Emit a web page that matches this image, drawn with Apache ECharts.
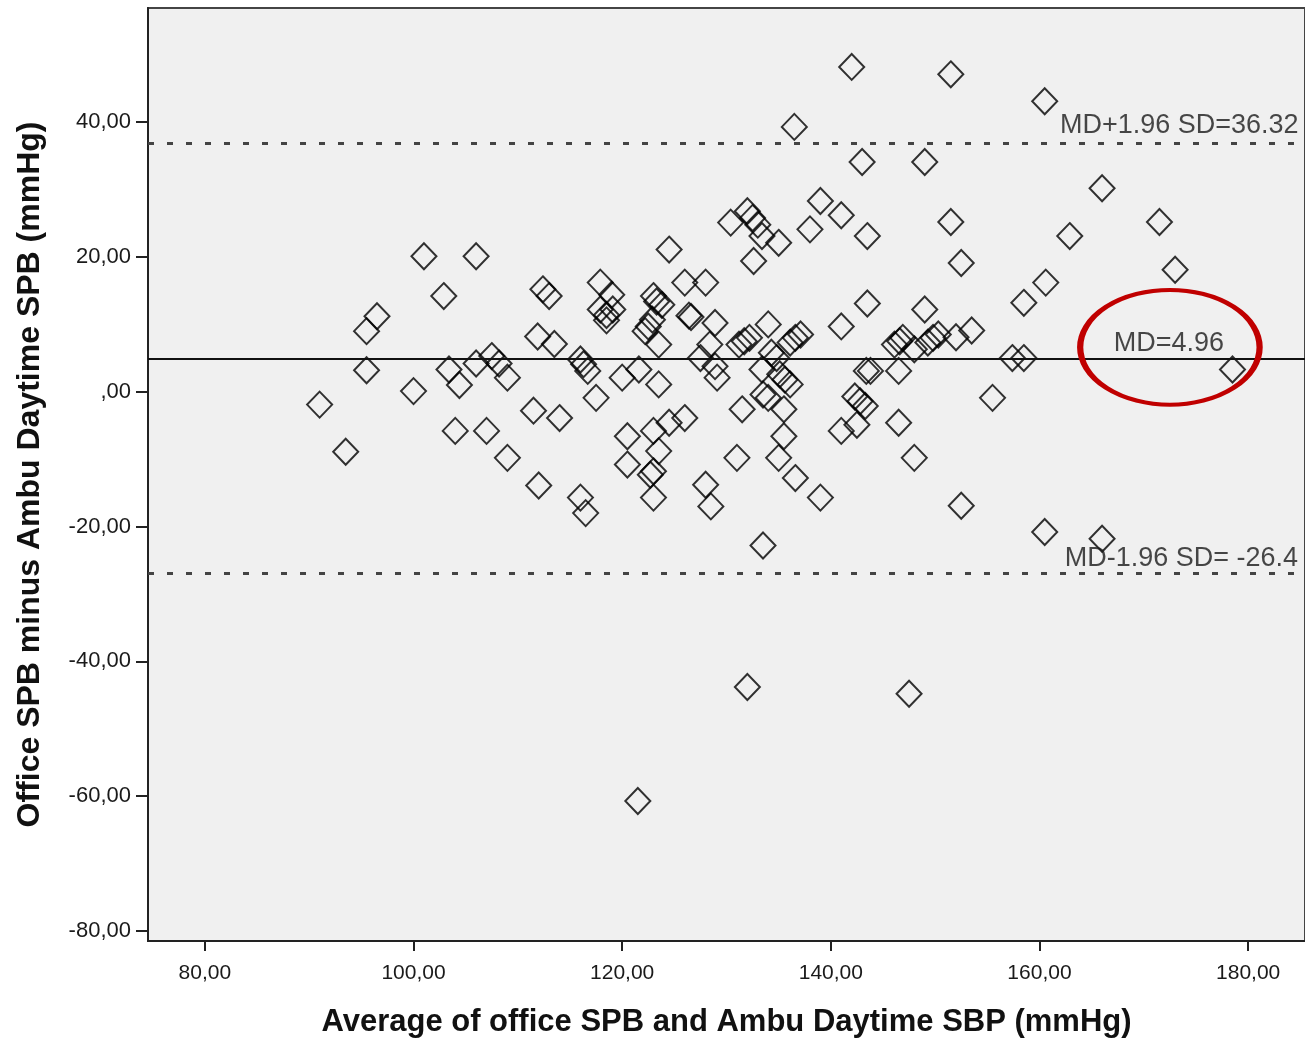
<!DOCTYPE html>
<html>
<head>
<meta charset="utf-8">
<script src="https://cdn.jsdelivr.net/npm/echarts@6/dist/echarts.min.js"></script>
<style>
html,body{margin:0;padding:0;background:#fff;}
#chart{width:1305px;height:1043px;}
</style>
</head>
<body>
<div id="chart"></div>
<script>
// Average of office SBP and ambulatory daytime SBP (mmHg)
const averages = [
  91.0, 93.5, 95.5, 96.5, 95.5, 100.0, 101.0, 102.9, 103.4, 104.4,
  104.0, 106.0, 106.0, 107.5, 108.2, 109.0, 107.0, 109.0, 112.4, 113.0,
  111.9, 113.5, 111.5, 114.0, 112.0, 116.0, 116.3, 116.7, 116.0, 116.5,
  117.5, 117.9, 119.0, 117.9, 119.1, 118.5, 118.5, 120.0, 121.6, 123.5,
  123.0, 123.3, 123.8, 122.9, 122.5, 122.2, 123.5, 124.5, 126.0, 128.0,
  126.4, 126.6, 128.9, 128.4, 127.5, 128.9, 129.1, 120.5, 120.5, 123.0,
  123.5, 124.5, 126.0, 122.7, 123.0, 123.0, 128.0, 128.5, 121.5, 130.4,
  132.0, 132.5, 133.0, 133.4, 135.0, 132.6, 138.0, 139.0, 141.0, 143.5,
  142.0, 136.5, 143.0, 134.0, 141.0, 143.5, 131.2, 131.7, 132.2, 136.1,
  136.6, 137.1, 134.3, 134.8, 133.4, 135.1, 135.6, 136.1, 134.0, 133.5,
  135.5, 131.5, 131.0, 135.0, 135.5, 136.6, 139.0, 133.5, 132.0, 142.3,
  142.8, 143.3, 141.0, 142.5, 143.4, 143.8, 149.0, 151.5, 151.5, 152.5,
  149.0, 146.1, 146.6, 146.9, 148.0, 149.3, 149.8, 150.3, 146.5, 146.5,
  148.0, 147.5, 152.0, 153.5, 155.5, 152.5, 157.4, 158.5, 158.5, 160.5,
  166.0, 171.5, 162.9, 173.0, 160.6, 178.5, 160.5, 166.0
];
// Office SBP minus ambulatory daytime SBP (mmHg)
const differences = [
  -1.9, -8.9, 9.0, 11.2, 3.2, 0.1, 20.1, 14.2, 3.3, 1.0,
  -5.8, 20.1, 4.2, 5.3, 4.2, 2.1, -5.8, -9.8, 15.2, 14.2,
  8.2, 7.1, -2.8, -3.9, -13.9, 4.8, 4.1, 3.1, -15.7, -18.0,
  -0.9, 16.2, 14.4, 12.2, 12.2, 11.4, 10.6, 2.1, 3.3, 1.1,
  14.2, 13.4, 12.9, 10.7, 9.7, 9.0, 7.0, 21.1, 16.2, 16.2,
  11.3, 11.1, 10.2, 7.0, 5.0, 3.8, 2.1, -6.6, -10.8, -5.8,
  -8.8, -4.6, -3.9, -12.3, -11.8, -15.7, -13.8, -17.0, -60.7, 25.1,
  26.8, 25.8, 24.8, 23.1, 22.1, 19.4, 24.1, 28.3, 26.2, 23.1,
  48.2, 39.3, 34.1, 10.0, 9.7, 13.1, 7.0, 7.5, 8.0, 7.3,
  8.0, 8.5, 5.8, 5.0, 3.3, 2.6, 1.8, 1.1, -0.9, -0.4,
  -2.6, -2.6, -9.8, -9.8, -6.6, -12.8, -15.7, -22.8, -43.8, -0.7,
  -1.4, -2.1, -5.8, -4.9, 3.1, 3.1, 34.1, 47.1, 25.2, 19.1,
  12.2, 7.0, 7.5, 8.0, 6.3, 7.3, 8.0, 8.5, 3.1, -4.6,
  -9.8, -44.8, 8.1, 9.1, -0.9, -16.9, 5.0, 5.0, 13.2, 43.1,
  30.2, 25.2, 23.1, 18.1, 16.2, 3.3, -20.8, -21.8
];
const xTicks = [80, 100, 120, 140, 160, 180];
const yTicks = [-80, -60, -40, -20, 0, 20, 40];
const meanDiff = 4.96;
const upperLimit = 36.9;
const lowerLimit = -26.9;
const labelTexts = ['MD+1.96 SD=36.32', 'MD=4.96', 'MD-1.96 SD= -26.4'];

function fmt(v) {
  const s = Math.abs(v).toFixed(2).replace('.', ',');
  const t = s.startsWith('0,') ? s.slice(1) : s;
  return (v < 0 ? '-' : '') + t;
}

const points = averages.map((a, i) => [a, differences[i]]);

const chart = echarts.init(document.getElementById('chart'), null, {renderer: 'canvas'});
const FONT = '"Liberation Sans", Arial, sans-serif';

const option = {
  animation: false,
  backgroundColor: '#ffffff',
  grid: {
    left: 148, top: 8, right: -3, bottom: 101,
    show: true, backgroundColor: '#f0f0f0',
    borderColor: '#444', borderWidth: 2
  },
  xAxis: {
    type: 'value',
    min: 74.55, max: 185.45,
    name: 'Average of office SPB and Ambu Daytime SBP (mmHg)',
    nameLocation: 'middle', nameGap: 66,
    nameTextStyle: {fontFamily: FONT, fontWeight: 'bold', fontSize: 31, color: '#111'},
    axisLine: {show: true, onZero: false, lineStyle: {color: '#222', width: 2}},
    axisTick: {show: true, length: 10, customValues: xTicks, lineStyle: {color: '#222', width: 2}},
    axisLabel: {customValues: xTicks, margin: 22, fontFamily: FONT, fontSize: 21, color: '#1a1a1a',
      formatter: v => fmt(v)},
    splitLine: {show: false}
  },
  yAxis: {
    type: 'value',
    min: -81.48, max: 56.94,
    name: 'Office SPB minus Ambu Daytime SPB (mmHg)',
    nameLocation: 'middle', nameGap: 102,
    nameTextStyle: {fontFamily: FONT, fontWeight: 'bold', fontSize: 32, color: '#111'},
    axisLine: {show: true, onZero: false, lineStyle: {color: '#222', width: 2}},
    axisTick: {show: true, length: 12, customValues: yTicks, lineStyle: {color: '#222', width: 2}},
    axisLabel: {customValues: yTicks, margin: 17, fontFamily: FONT, fontSize: 22, color: '#1a1a1a',
      formatter: v => fmt(v)},
    splitLine: {show: false}
  },
  series: [
    {
      type: 'scatter',
      data: points,
      symbol: 'diamond',
      symbolSize: [25, 26],
      itemStyle: {color: 'rgba(0,0,0,0)', borderColor: '#000', borderWidth: 2},
      silent: true,
      markLine: {
        silent: true,
        symbol: 'none',
        label: {show: false},
        data: [
          {yAxis: upperLimit, lineStyle: {type: [6, 13], color: '#444', width: 3}},
          {yAxis: meanDiff, lineStyle: {type: 'solid', color: '#111', width: 2}},
          {yAxis: lowerLimit, lineStyle: {type: [6, 13], color: '#444', width: 3}}
        ]
      }
    },
    {
      type: 'scatter',
      silent: true,
      symbolSize: 0,
      data: [
        {value: [173.4, 39.5], name: labelTexts[0]},
        {value: [172.4, 7.2], name: labelTexts[1]},
        {value: [173.6, -24.8], name: labelTexts[2]}
      ],
      label: {
        show: true, position: 'inside', formatter: p => p.name,
        fontFamily: FONT, fontSize: 27, color: '#1a1a1a'
      },
      z: 5
    }
  ]
};
chart.setOption(option);

// red ellipse annotation around the MD label, placed in data coordinates
const ellCenter = [172.5, 6.6];
const ellHalf = [8.6, 8.52];
const c = chart.convertToPixel({gridIndex: 0}, ellCenter);
const e = chart.convertToPixel({gridIndex: 0}, [ellCenter[0] + ellHalf[0], ellCenter[1] + ellHalf[1]]);
const rx = Math.abs(e[0] - c[0]);
const ry = Math.abs(c[1] - e[1]);
chart.setOption({
  graphic: [{
    type: 'circle',
    x: c[0], y: c[1],
    scaleX: rx / ry, scaleY: 1,
    shape: {cx: 0, cy: 0, r: ry},
    style: {fill: null, stroke: '#c00000', lineWidth: 4, strokeNoScale: true},
    z: 10,
    silent: true
  }]
});
</script>
</body>
</html>
